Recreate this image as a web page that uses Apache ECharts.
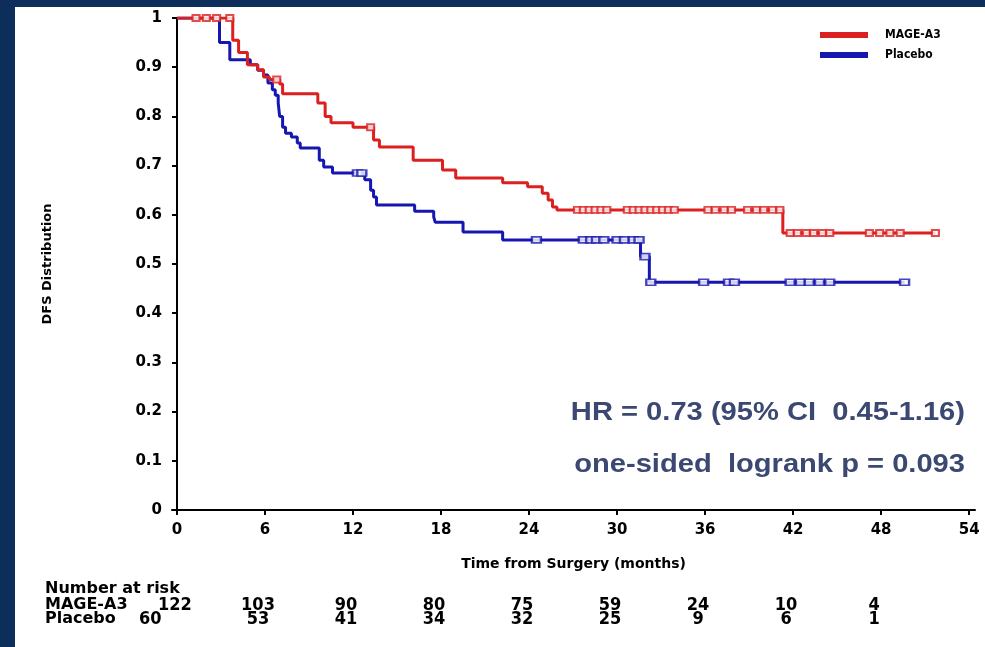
<!DOCTYPE html>
<html>
<head>
<meta charset="utf-8">
<script src="https://cdn.jsdelivr.net/npm/echarts@6/dist/echarts.min.js"></script>
<style>
  html, body { margin:0; padding:0; width:985px; height:647px; background:#0d2d5a; overflow:hidden; }
  #chart { position:absolute; left:15px; top:7px; width:970px; height:640px; background:#ffffff; }
</style>
</head>
<body>
<div id="chart"></div>
<script>
// ---------- data ----------
const xTicks = [0, 6, 12, 18, 24, 30, 36, 42, 48, 54];
const seriesNames = ['MAGE-A3', 'Placebo'];

// Kaplan-Meier steps: time of step (months) and survival after the step
const magesT = [0, 3.8, 4.2, 4.8, 5.5, 5.9, 6.3, 7.0, 7.2, 9.6, 10.1, 10.5, 12.0, 13.4, 13.8, 16.1, 18.1, 19.0, 22.2, 23.9, 24.9, 25.3, 25.6, 25.9, 41.3, 51.7];
const magesS = [1.0, 0.955, 0.93, 0.905, 0.895, 0.88, 0.875, 0.866, 0.846, 0.827, 0.80, 0.787, 0.778, 0.752, 0.738, 0.711, 0.691, 0.675, 0.665, 0.657, 0.644, 0.63, 0.616, 0.61, 0.563, 0.563];

const placT = [0, 2.9, 3.6, 5.0, 5.5, 5.9, 6.2, 6.5, 6.7, 6.9, 7.0, 7.2, 7.4, 7.8, 8.2, 8.4, 9.7, 10.0, 10.6, 12.8, 13.2, 13.4, 13.6, 16.2, 17.5, 17.6, 19.5, 22.2, 31.6, 32.2, 49.6];
const placS = [1.0, 0.95, 0.915, 0.905, 0.894, 0.884, 0.868, 0.854, 0.843, 0.827, 0.80, 0.778, 0.766, 0.758, 0.746, 0.736, 0.711, 0.697, 0.685, 0.671, 0.65, 0.636, 0.62, 0.607, 0.596, 0.585, 0.565, 0.549, 0.515, 0.463, 0.463];

// censoring times (months)
const magesCensor = [1.3, 2.0, 2.7, 3.6, 6.8, 13.2, 27.3, 27.7, 28.1, 28.5, 28.9, 29.3, 30.7, 31.1, 31.5, 31.9, 32.3, 32.7, 33.1, 33.5, 33.9, 36.2, 36.7, 37.3, 37.8, 38.9, 39.5, 40.0, 40.6, 41.1, 41.8, 42.3, 42.9, 43.4, 44.0, 44.5, 47.2, 47.9, 48.6, 49.3, 51.7];
const placCensor = [12.3, 12.6, 24.5, 27.7, 28.2, 28.6, 29.1, 30.0, 30.5, 31.1, 31.5, 31.9, 32.3, 35.9, 37.6, 38.0, 41.8, 42.5, 43.1, 43.8, 44.5, 49.6];

// number at risk
const riskTimes = [0, 6, 12, 18, 24, 30, 36, 42, 48];
const riskMages = [122, 103, 90, 80, 75, 59, 24, 10, 4];
const riskPlac = [60, 53, 41, 34, 32, 25, 9, 6, 1];

const hrText = 'HR = 0.73 (95% CI  0.45-1.16)';
const pText = 'one-sided  logrank p = 0.093';

// ---------- helpers ----------
function stepValue(T, S, t) {
  let v = S[0];
  for (let i = 0; i < T.length; i++) { if (T[i] <= t) v = S[i]; }
  return v;
}
const RED = '#dc1f1f', BLUE = '#1616b0';
const boldWide = '"DejaVu Sans", Verdana, sans-serif';

const chart = echarts.init(document.getElementById('chart'), null, { renderer: 'canvas' });

chart.setOption({
  animation: false,
  backgroundColor: '#ffffff',
  grid: { left: 157, top: 11, width: 803, bottom: 137, containLabel: false },
  legend: {
    data: seriesNames.map(n => ({ name: n, icon: 'rect' })),
    orient: 'vertical',
    left: 800, top: 16,
    itemWidth: 48, itemHeight: 6, itemGap: 6,
    textStyle: { fontFamily: '"DejaVu Sans Condensed", "Liberation Sans", Arial, sans-serif', fontWeight: 'bold', fontSize: 12, color: '#000', lineHeight: 14, padding: [0, 0, 0, 12] }
  },
  xAxis: {
    type: 'value', min: -0.34, max: 54.4,
    name: 'Time from Surgery (months)', nameLocation: 'middle', nameGap: 47,
    nameTextStyle: { fontFamily: boldWide, fontWeight: 'bold', fontSize: 14, color: '#000' },
    axisLine: { show: true, lineStyle: { color: '#000', width: 2 } },
    axisTick: { show: true, length: 5, lineStyle: { color: '#000', width: 2 }, customValues: xTicks },
    axisLabel: { customValues: xTicks, margin: 13, fontFamily: boldWide, fontWeight: 'bold', fontSize: 15, color: '#000' },
    splitLine: { show: false }
  },
  yAxis: {
    type: 'value', min: 0, max: 1, interval: 0.1,
    name: 'DFS Distribution', nameLocation: 'middle', nameGap: 118, nameRotate: 90,
    nameTextStyle: { fontFamily: boldWide, fontWeight: 'bold', fontSize: 13, color: '#000' },
    axisLine: { show: true, lineStyle: { color: '#000', width: 2 } },
    axisTick: { show: true, length: 5, lineStyle: { color: '#000', width: 2 } },
    axisLabel: { margin: 10, fontFamily: boldWide, fontWeight: 'bold', fontSize: 15, color: '#000' },
    splitLine: { show: false }
  },
  series: [
    {
      name: seriesNames[0], type: 'line', step: 'end', showSymbol: false, z: 3,
      data: magesT.map((t, i) => [t, magesS[i]]),
      lineStyle: { color: RED, width: 3 }, itemStyle: { color: RED }
    },
    {
      name: seriesNames[1], type: 'line', step: 'end', showSymbol: false, z: 2,
      data: placT.map((t, i) => [t, placS[i]]),
      lineStyle: { color: BLUE, width: 3 }, itemStyle: { color: BLUE }
    },
    {
      name: 'MAGE-A3 censored', type: 'scatter', symbol: 'rect', symbolSize: [7, 6], z: 4,
      data: magesCensor.map(t => [t, stepValue(magesT, magesS, t)]),
      itemStyle: { color: '#ffffff', borderColor: RED, borderWidth: 2 }
    },
    {
      name: 'Placebo censored', type: 'scatter', symbol: 'rect', symbolSize: [9, 6], z: 4,
      data: placCensor.map(t => [t, stepValue(placT, placS, t)]),
      itemStyle: { color: '#ffffff', borderColor: BLUE, borderWidth: 2 }
    }
  ]
});

// ---------- annotations & number-at-risk table ----------
const g = [];
const hrFont = 'bold 26px "Liberation Sans", Arial, sans-serif';
g.push({ type: 'text', x: 950, y: 406, scaleX: 1.12, z: 10,
  style: { text: hrText, font: hrFont, fill: '#3a4872', textAlign: 'right', textVerticalAlign: 'middle' } });
g.push({ type: 'text', x: 950, y: 458, scaleX: 1.12, z: 10,
  style: { text: pText, font: hrFont, fill: '#3a4872', textAlign: 'right', textVerticalAlign: 'middle' } });

const labFont = 'bold 16px "DejaVu Sans", Verdana, sans-serif';
const numFont = 'bold 18px "Liberation Sans Narrow", "DejaVu Sans Condensed", Arial, sans-serif';
const rowY = [598, 612];
g.push({ type: 'text', x: 30, y: 582, z: 10, style: { text: 'Number at risk', font: labFont, fill: '#000', textAlign: 'left', textVerticalAlign: 'middle' } });
g.push({ type: 'text', x: 30, y: rowY[0], z: 10, style: { text: seriesNames[0], font: labFont, fill: '#000', textAlign: 'left', textVerticalAlign: 'middle' } });
g.push({ type: 'text', x: 30, y: rowY[1], z: 10, style: { text: seriesNames[1], font: labFont, fill: '#000', textAlign: 'left', textVerticalAlign: 'middle' } });
[riskMages, riskPlac].forEach((row, r) => {
  row.forEach((v, i) => {
    const px = chart.convertToPixel({ xAxisIndex: 0 }, riskTimes[i]);
    let x = px - 7, align = 'center';
    if (i === 0) { x = (r === 0 ? 143 : 124); align = 'left'; }
    g.push({ type: 'text', x: x, y: rowY[r], z: 10,
      style: { text: String(v), font: numFont, fill: '#000', textAlign: align, textVerticalAlign: 'middle' } });
  });
});
chart.setOption({ graphic: g });
</script>
</body>
</html>
